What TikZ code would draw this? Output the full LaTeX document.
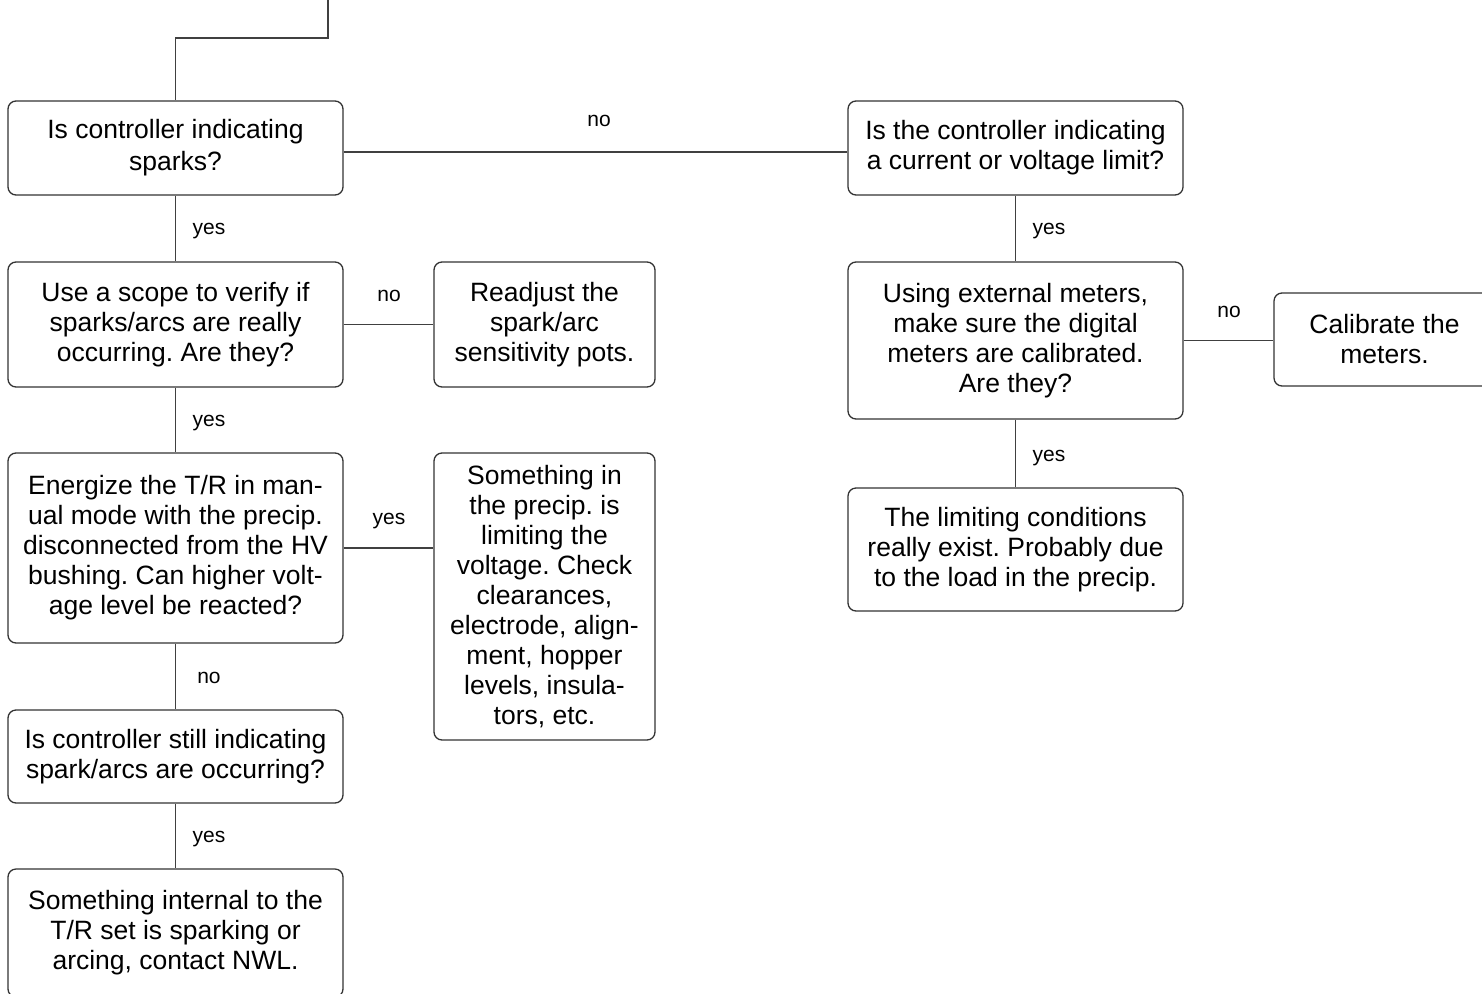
\documentclass[tikz,border=0pt]{standalone}
\usepackage{fontspec}
\setmainfont{Liberation Sans}
\frenchspacing
\begin{document}
\begin{tikzpicture}[x=1pt,y=-1pt,
  box/.style={draw=black!80, line width=1.3pt, rounded corners=8pt, align=center,
    inner sep=0pt, font=\fontsize{26.5}{30}\selectfont},
  link/.style={draw=black!75, line width=1.3pt},
  lbl/.style={font=\fontsize{21}{25}\selectfont, inner sep=0pt}]
\useasboundingbox (0,0) rectangle (1482,993);
\clip (0,0) rectangle (1482,993);

% left column
\node[box, minimum width=335pt, minimum height=94pt] (A) at (175.5,148)
  {Is controller indicating\\[2pt]sparks?};
\node[box, minimum width=335pt, minimum height=125pt] (B) at (175.5,324.5)
  {Use a scope to verify if\\sparks/arcs are really\\occurring. Are they?};
\node[box, minimum width=221pt, minimum height=125pt] (C) at (544.5,324.5)
  {Readjust the\\spark/arc\\sensitivity pots.};
\node[box, minimum width=335pt, minimum height=190pt] (D) at (175.5,548)
  {Energize the T/R in man-\\ual mode with the precip.\\disconnected from the HV\\bushing. Can higher volt-\\age level be reacted?};
\node[box, minimum width=221pt, minimum height=287pt] (E) at (544.5,596.5)
  {Something in\\the precip. is\\limiting the\\voltage. Check\\clearances,\\electrode, align-\\ment, hopper\\levels, insula-\\tors, etc.};
\node[box, minimum width=335pt, minimum height=93pt] (F) at (175.5,756.5)
  {Is controller still indicating\\spark/arcs are occurring?};
\node[box, minimum width=335pt, minimum height=128pt] (G) at (175.5,933)
  {Something internal to the\\T/R set is sparking or\\arcing, contact NWL.};

% right column
\node[box, minimum width=335pt, minimum height=94pt] (H) at (1015.5,148)
  {Is the controller indicating\\a current or voltage limit?};
\node[box, minimum width=335pt, minimum height=157pt] (I) at (1015.5,340.5)
  {Using external meters,\\make sure the digital\\meters are calibrated.\\Are they?};
\node[box, minimum width=221pt, minimum height=93pt] (J) at (1384.5,339.5)
  {Calibrate the\\meters.};
\node[box, minimum width=335pt, minimum height=123pt] (K) at (1015.5,549.5)
  {The limiting conditions\\really exist. Probably due\\to the load in the precip.};

% incoming line
\coordinate (in) at (328,0);
\draw[link] (in) -- (328,38) -- (A.north |- 0,38) -- (A.north);

% connectors
\draw[link] ([yshift=-4pt]A.east) -- ([yshift=-4pt]H.west);
\draw[link] (A.south) -- (B.north);
\draw[link] (B.east) -- (C.west);
\draw[link] (B.south) -- (D.north);
\draw[link] (D.east) -- (D.east -| E.west);
\draw[link] (D.south) -- (F.north);
\draw[link] (F.south) -- (G.north);
\draw[link] (H.south) -- (I.north);
\draw[link] (I.east) -- (I.east -| J.west);
\draw[link] (I.south) -- (K.north);

% labels
\node[lbl] (l1) at (599,121) {no};
\node[lbl] (l2) at (209,231) {yes};
\node[lbl] (l3) at (389,296) {no};
\node[lbl] (l4) at (209,423) {yes};
\node[lbl] (l5) at (389,521) {yes};
\node[lbl] (l6) at (209,678) {no};
\node[lbl] (l7) at (209,839) {yes};
\node[lbl] (l8) at (1049,231) {yes};
\node[lbl] (l9) at (1229,312) {no};
\node[lbl] (l10) at (1049,458) {yes};
\end{tikzpicture}
\end{document}
